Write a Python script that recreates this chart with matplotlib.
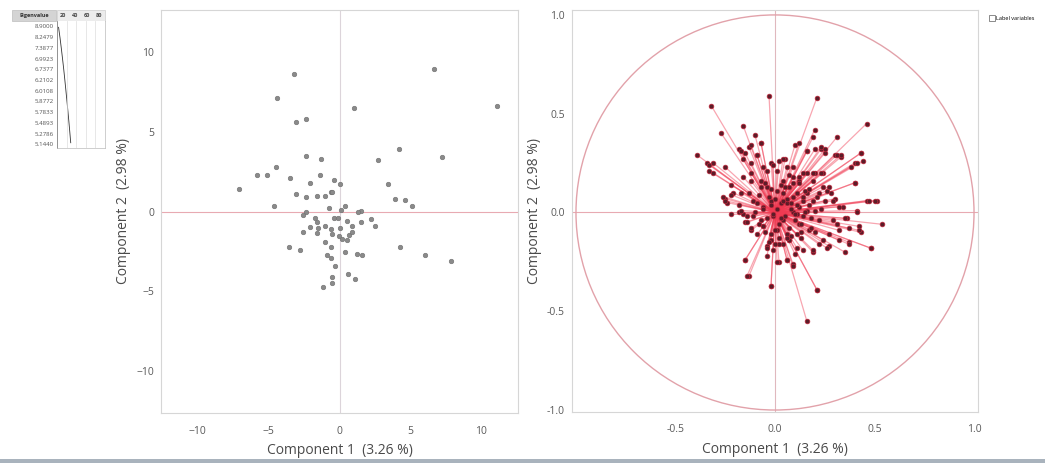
import numpy as np
import matplotlib.pyplot as plt
from matplotlib.lines import Line2D
from matplotlib.patches import Rectangle, Circle

# score plot (observations)
score_x = [-3.2, 6.7, -4.4, 1.0, 11.1, -3.1, -2.4, 4.2, -2.4, -1.3, 2.7, 7.2, -4.5, -5.8, -5.1,
           -3.5, -1.4, -2.1, -0.4, 0.0, 3.4, -7.1, -3.1, -2.4, -1.6, -1.0, -0.6, -0.5, 3.9, 4.6,
           5.1, -4.6, -0.75, 0.4, 0.1, -2.4, -2.6, 1.5, 1.3, -1.75, -0.4, -0.1, 0.5, 1.5, 2.2,
           2.5, -1.6, -1.0, -2.1, -1.5, -0.6, 0.0, 0.9, -2.6, -1.6, -0.55, -0.05, 0.2, 0.55, 0.7,
           0.85, -1.0, -0.6, -3.55, -2.8, 0.4, 1.2, 1.6, 4.3, 6.0, 7.9, -0.9, -0.6, -0.3, 0.6,
           1.1, -0.5, -0.55, -1.2]
score_y = [8.6, 8.9, 7.1, 6.5, 6.6, 5.6, 5.8, 3.9, 3.5, 3.3, 3.2, 3.4, 2.8, 2.3, 2.3,
           2.1, 2.3, 1.8, 2.0, 1.7, 1.7, 1.4, 1.1, 0.9, 1.0, 1.0, 1.2, 1.2, 0.8, 0.7,
           0.35, 0.35, 0.2, 0.35, 0.1, 0.0, -0.2, 0.05, -0.05, -0.4, -0.4, -0.4, -0.6, -0.65, -0.5,
           -0.9, -0.65, -0.9, -1.0, -1.05, -1.1, -1.05, -0.9, -1.3, -1.35, -1.4, -1.55, -1.7, -1.8, -1.5,
           -1.3, -1.9, -2.25, -2.25, -2.4, -2.55, -2.65, -2.7, -2.25, -2.7, -3.1, -2.75, -2.9, -3.4, -3.9,
           -4.2, -4.1, -4.5, -4.7]

# loading plot (variables)
load_x = [-0.03, 0.21, -0.32, 0.46, -0.27, -0.16, -0.10, -0.07, 0.20, 0.19, 0.31, 0.10, -0.18, -0.13,
          -0.15, -0.09, -0.16, -0.12, -0.39, -0.34, -0.31, -0.33, -0.25, -0.06, -0.02, 0.02, 0.05, 0.09,
          0.16, 0.20, 0.23, 0.25, 0.30, 0.33, 0.43, 0.40, 0.44, 0.38, 0.16, 0.20, 0.24, 0.19, 0.27, 0.40,
          -0.22, -0.21, -0.25, -0.24, -0.18, -0.13, -0.11, -0.18, -0.16, 0.46, 0.51, 0.30, 0.28, 0.34,
          0.41, 0.54, 0.36, 0.42, 0.43, 0.37, 0.48, 0.35, 0.27, 0.24, 0.19, 0.14, 0.11, 0.17, -0.15,
          -0.12, -0.06, -0.15, -0.13, -0.04, -0.04, -0.02, 0.02, 0.06, 0.09, 0.10, 0.21, 0.16, 0.04,
          0.07, -0.02, 0.29, 0.22, 0.20, 0.25, 0.14, 0.07, 0.01, 0.04, 0.11, -0.04, -0.07, -0.02, -0.06,
          0.06, 0.09, 0.04, -0.01, 0.12, 0.16, 0.19, -0.07, 0.01, 0.06, -0.02, 0.27, 0.32, 0.22, 0.24,
          0.14, 0.12, 0.01, -0.12, -0.16, -0.22, -0.14,
          -0.33, -0.31, -0.25, -0.22, -0.26, -0.17, -0.14, -0.12, -0.15, -0.14, -0.02, 0.21, 0.01, 0.06,
          0.09, -0.04, -0.01, 0.02, 0.07, 0.11, 0.19, 0.22, 0.26, 0.32, 0.37, 0.42, 0.48, 0.41, 0.47,
          0.50, 0.40, 0.41, 0.43, 0.31, 0.33, 0.23, 0.25, 0.19, 0.23, 0.26, 0.29, 0.32, 0.35, 0.31,
          0.37, 0.12, 0.16, 0.04, 0.06, -0.01, -0.12, -0.07, -0.17, -0.09, -0.04, 0.09, 0.12, 0.16,
          -0.07, -0.12, -0.17,
          0.03, -0.02, 0.05, -0.04, 0.08, 0.02, -0.06, 0.06, -0.03, 0.10, 0.04, -0.08, 0.00, 0.09,
          -0.09, 0.12, 0.07, -0.05, 0.11, 0.01, -0.01, 0.03, 0.14, 0.13, -0.10, 0.05, 0.08, -0.02,
          0.15, 0.00,
          0.17, 0.18, 0.13, 0.21, -0.08, -0.11, 0.09, 0.02, -0.03, 0.06, 0.15, 0.12, 0.18, 0.23,
          -0.05, 0.00, 0.08, 0.10, 0.04, -0.06, 0.13, 0.20, 0.17, 0.07, 0.03, -0.09, 0.11, 0.14]
load_y = [0.59, 0.58, 0.54, 0.45, 0.40, 0.44, 0.39, 0.35, 0.42, 0.38, 0.38, 0.34, 0.32, 0.33,
          0.30, 0.29, 0.27, 0.25, 0.29, 0.25, 0.25, 0.21, 0.23, 0.23, 0.25, 0.26, 0.27, 0.23,
          0.31, 0.32, 0.32, 0.30, 0.29, 0.28, 0.30, 0.25, 0.26, 0.23, 0.20, 0.20, 0.20, 0.16, 0.13, 0.15,
          0.14, 0.10, 0.07, 0.05, 0.04, 0.10, 0.06, 0.00, -0.01, 0.06, 0.06, 0.07, 0.10, 0.03,
          0.01, -0.06, -0.03, -0.07, -0.10, -0.15, -0.18, -0.20, -0.17, -0.14, -0.20, -0.19, -0.11, -0.09, -0.05,
          -0.09, -0.07, -0.24, -0.32, -0.17, -0.22, -0.37, -0.25, -0.24, -0.26, -0.21, -0.39, -0.55, -0.16,
          -0.14, -0.14, -0.04, -0.04, 0.01, 0.06, 0.06, 0.13, 0.11, 0.16, 0.10, 0.13, 0.16, 0.06, 0.03,
          0.05, 0.00, -0.04, -0.02, -0.06, 0.01, 0.06, -0.04, -0.09, -0.11, -0.11, -0.11, -0.09, 0.10, 0.13,
          0.20, 0.16, 0.21, 0.20, 0.18, -0.01, -0.02,
          0.24, 0.20, 0.06, 0.09, 0.08, 0.01, -0.05, -0.08, -0.24, -0.32, -0.37, -0.39, -0.25, -0.24,
          -0.27, -0.18, -0.19, -0.16, -0.14, -0.18, -0.19, -0.16, -0.18, -0.14, -0.16, -0.09, -0.18, 0.00, 0.06,
          0.06, 0.15, 0.25, 0.30, 0.29, 0.29, 0.33, 0.32, 0.20, 0.20, 0.11, 0.06, 0.03, -0.03, -0.06,
          -0.08, 0.35, 0.31, 0.27, 0.23, 0.24, 0.34, 0.35, 0.31, 0.29, 0.21, 0.18, 0.15, 0.10,
          0.13, 0.16, 0.10,
          0.05, 0.04, -0.02, -0.03, 0.02, -0.06, 0.02, 0.07, 0.08, -0.04, 0.10, -0.06, -0.09, 0.08,
          0.05, 0.03, -0.08, -0.10, -0.01, 0.02, -0.01, -0.03, 0.08, -0.06, 0.00, 0.13, -0.12, 0.12,
          0.00, 0.07,
          0.04, -0.03, -0.10, 0.08, 0.09, -0.02, 0.15, -0.13, -0.15, -0.13, 0.11, 0.18, -0.08, 0.02,
          0.15, -0.16, 0.05, -0.01, 0.06, -0.07, -0.13, -0.10, 0.12, 0.19, 0.14, -0.11, 0.04, -0.02]

eigenvalues = [8.9000, 8.2479, 7.3877, 6.9923, 6.7377, 6.2102, 6.0108, 5.8772, 5.7833,
               5.4893, 5.2786, 5.1440]
pct_first = 3.26
pct_labels = ['20', '40', '60', '80']
xlab = 'Component 1  (3.26 %)'
ylab = 'Component 2  (2.98 %)'

W, H = 1045, 463
fig = plt.figure(figsize=(W / 100, H / 100), dpi=100)
plt.rcParams['font.family'] = ['Open Sans', 'DejaVu Sans']


def fbox(x0, y0, x1, y1):
    return [x0 / W, 1 - y1 / H, (x1 - x0) / W, (y1 - y0) / H]


spine_c = '#d6d6d6'
tick_c = '#5a5a5a'
ref_c = '#e8aab2'


def style(ax):
    for s in ax.spines.values():
        s.set_color(spine_c)
        s.set_linewidth(0.8)
    ax.tick_params(length=0, labelsize=7.5, labelcolor=tick_c)
    ax.tick_params(axis='x', pad=9)
    ax.tick_params(axis='y', pad=5)
    ax.set_xlabel(xlab, fontsize=10, color='#4a4a4a', labelpad=5)
    ax.set_ylabel(ylab, fontsize=10, color='#4a4a4a', labelpad=4)


# left: scores
ax1 = fig.add_axes(fbox(161, 10, 518, 413))
ax1.axhline(0, color=ref_c, lw=0.8, zorder=1)
ax1.axvline(0, color='#dcd4da', lw=0.8, zorder=1)
ax1.plot(score_x, score_y, 'o', ms=3.3, mfc='#8a8a8a', mec='#6e6e6e', mew=0.4, zorder=3)
ax1.set_xlim(-12.6, 12.6)
ax1.set_ylim(-12.6, 12.6)
ax1.set_xticks([-10, -5, 0, 5, 10])
ax1.set_yticks([-10, -5, 0, 5, 10])
style(ax1)

# right: loadings
ax2 = fig.add_axes(fbox(572, 10, 978, 412))
ax2.axhline(0, color=ref_c, lw=0.8, zorder=1)
ax2.axvline(0, color='#e0b8be', lw=0.8, zorder=1)
ax2.add_patch(Circle((0, 0), 1.0, fill=False, ec='#e2a2aa', lw=1.0, zorder=1))
for lx, ly in zip(load_x, load_y):
    ax2.plot([0, lx], [0, ly], color='#f03a52', alpha=0.45, lw=0.9, zorder=2)
ax2.plot(load_x, load_y, 'o', ms=3.4, mfc='#5c1c28', mec='#c0283c', mew=0.5, zorder=3)
ax2.set_xlim(-1.02, 1.02)
ax2.set_ylim(-1.01, 1.025)
ax2.set_xticks([-0.5, 0.0, 0.5, 1.0])
ax2.set_yticks([-1.0, -0.5, 0.0, 0.5, 1.0])
ax2.xaxis.set_major_formatter(plt.FormatStrFormatter('%.1f'))
ax2.yaxis.set_major_formatter(plt.FormatStrFormatter('%.1f'))
style(ax2)

# legend
fig.legend(handles=[Line2D([], [], ls='none', marker='s', ms=4, mfc='white', mec='#777777',
                           mew=0.6, label='Label variables')],
           loc='upper left', bbox_to_anchor=(988 / W, 1 - 14 / H), frameon=False,
           fontsize=4, handletextpad=0.3, borderaxespad=0, handlelength=0.8)

# eigenvalue table
axt = fig.add_axes([0, 0, 1, 1], zorder=-1)
axt.set_xlim(0, W)
axt.set_ylim(H, 0)
axt.axis('off')
axt.add_patch(Rectangle((12, 10), 44, 11, fc='#d4d4d4', ec='#bdbdbd', lw=0.5))
axt.add_patch(Rectangle((57, 10), 48, 11, fc='#ececec', ec='#cccccc', lw=0.5))
axt.text(34, 15.5, 'Eigenvalue', fontsize=4, fontweight='bold', ha='center', va='center',
         color='#333333')
for i, lab in enumerate(pct_labels):
    axt.text(63 + 12 * i, 15.5, lab, fontsize=4, fontweight='bold', ha='center', va='center',
             color='#444444')
row_y = [27 + 10.7 * i for i in range(len(eigenvalues))]
for ry, ev in zip(row_y, eigenvalues):
    axt.text(54, ry, '%.4f' % ev, fontsize=4.4, ha='right', va='center', color='#555555')

axb = fig.add_axes(fbox(57, 21, 105, 148))
total = eigenvalues[0] / (pct_first / 100)
cum = np.cumsum(np.array(eigenvalues) / total * 100)
axb.plot(cum, np.arange(len(cum)), color='#333333', lw=0.6)
axb.set_xlim(0, 100)
axb.set_ylim(len(cum) - 0.5, -0.6)
for g in [20, 40, 60, 80]:
    axb.axvline(g, color='#dddddd', lw=0.5)
axb.set_xticks([])
axb.set_yticks([])
for k, s in axb.spines.items():
    s.set_color('#bbbbbb' if k != 'left' else '#666666')
    s.set_linewidth(0.5)
axb.spines['top'].set_visible(False)

# window border at the bottom
fig.add_artist(Rectangle((0, 0), 1, 4 / H, transform=fig.transFigure, fc='#a9b3bd', ec='none'))

fig.savefig('out.png', dpi=100)
